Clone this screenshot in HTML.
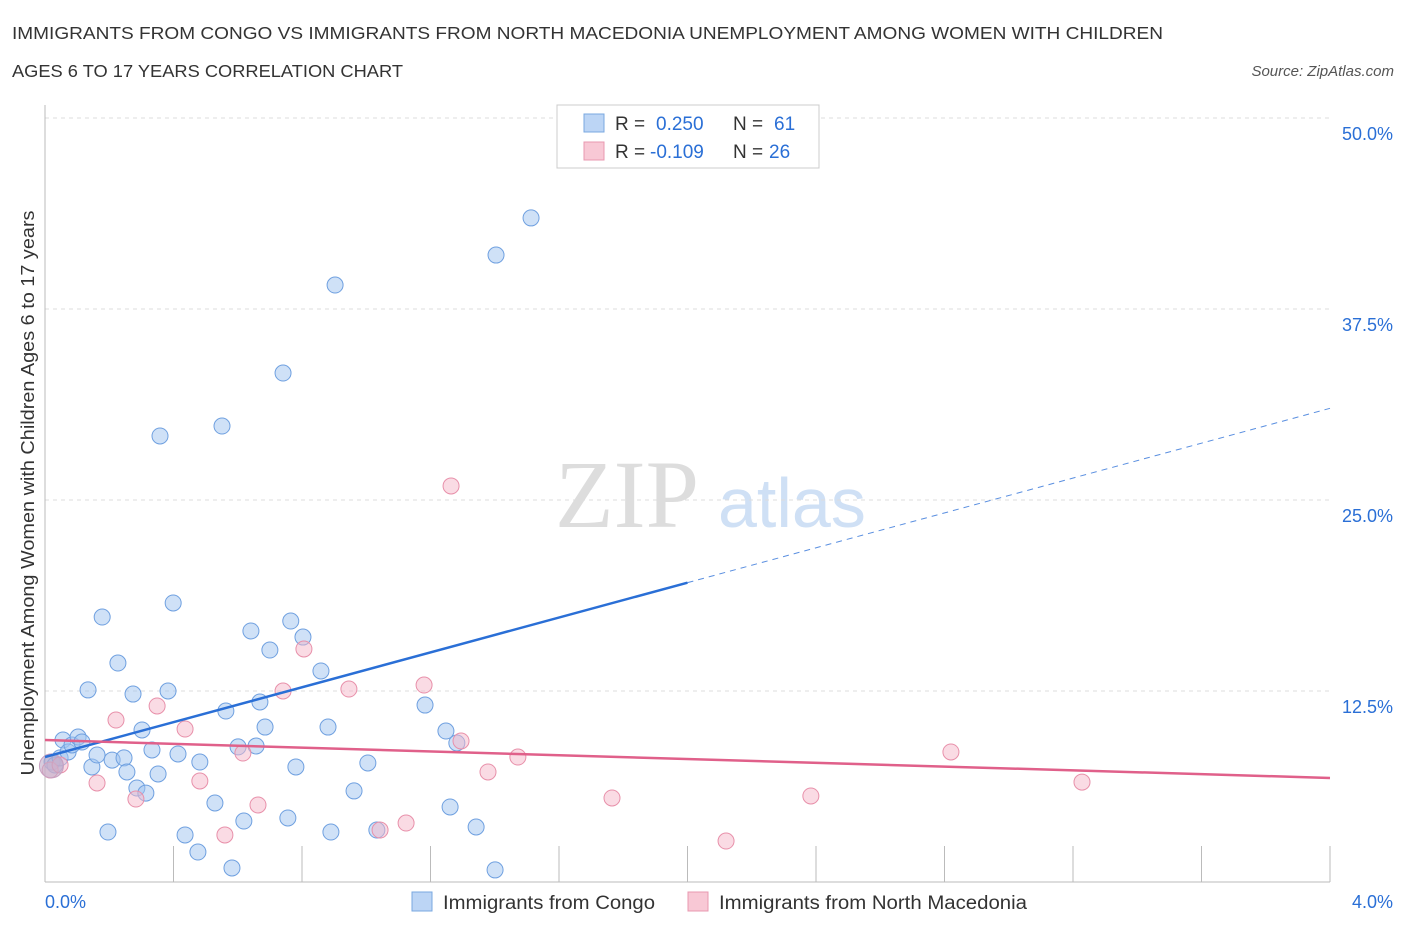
<!DOCTYPE html>
<html><head><meta charset="utf-8"><style>
body{margin:0;background:#fff;font-family:"Liberation Sans",sans-serif;}
svg{display:block}
</style></head><body>
<svg width="1406" height="930" viewBox="0 0 1406 930" xmlns="http://www.w3.org/2000/svg" id="svg">
<text x="12" y="39" font-size="17.5" fill="#333" textLength="1151" lengthAdjust="spacingAndGlyphs">IMMIGRANTS FROM CONGO VS IMMIGRANTS FROM NORTH MACEDONIA UNEMPLOYMENT AMONG WOMEN WITH CHILDREN</text>
<text x="12" y="77" font-size="17.5" fill="#333" textLength="391" lengthAdjust="spacingAndGlyphs">AGES 6 TO 17 YEARS CORRELATION CHART</text>
<text x="1394" y="76" font-size="15" fill="#555" font-style="italic" text-anchor="end">Source: ZipAtlas.com</text>
<text x="555" y="527" font-size="96" fill="#ddd" font-family="Liberation Serif">ZIP</text>
<text x="718" y="527" font-size="70" fill="#cfe0f5">atlas</text>
<text transform="translate(34,493) rotate(-90)" font-size="18" fill="#333" text-anchor="middle" textLength="565" lengthAdjust="spacingAndGlyphs">Unemployment Among Women with Children Ages 6 to 17 years</text>
<g id="grid"></g><g id="axes"></g><g id="pts"></g><g id="lines"></g>
<g>
<rect x="557" y="105" width="262" height="63" fill="#fff" stroke="#ccc"/>
<rect x="584" y="114" width="20" height="18" fill="#bcd5f5" stroke="#7aa8e0"/>
<text x="615" y="130" font-size="19" fill="#333">R =</text>
<text x="656" y="130" font-size="19" fill="#2a6fd6">0.250</text>
<text x="733" y="130" font-size="19" fill="#333">N =</text>
<text x="774" y="130" font-size="19" fill="#2a6fd6">61</text>
<rect x="584" y="142" width="20" height="18" fill="#f8c8d5" stroke="#e898b0"/>
<text x="615" y="158" font-size="19" fill="#333">R =</text>
<text x="650" y="158" font-size="19" fill="#2a6fd6">-0.109</text>
<text x="733" y="158" font-size="19" fill="#333">N =</text>
<text x="769" y="158" font-size="19" fill="#2a6fd6">26</text>
</g>
<g>
<rect x="412" y="892" width="20" height="19" fill="#bcd5f5" stroke="#7aa8e0"/>
<text x="443" y="909" font-size="19" fill="#333" textLength="212" lengthAdjust="spacingAndGlyphs">Immigrants from Congo</text>
<rect x="688" y="892" width="20" height="19" fill="#f8c8d5" stroke="#e898b0"/>
<text x="719" y="909" font-size="19" fill="#333" textLength="308" lengthAdjust="spacingAndGlyphs">Immigrants from North Macedonia</text>
</g>
</svg>
<script>
const blueX=[.022,.031,.047,.056,.072,.084,.103,.115,.134,.146,.162,.178,.196,.209,.227,.246,.255,.274,.286,.302,.314,.333,.352,.358,.383,.399,.414,.436,.476,.482,.529,.551,.563,.582,.601,.619,.641,.657,.669,.685,.700,.741,.756,.765,.781,.803,.859,.881,.890,.903,.962,1.005,1.033,1.183,1.248,1.261,1.282,1.342,1.401,1.404,1.513];
const blueY=[7.85,7.66,8.12,9.29,8.51,8.97,9.49,9.16,12.57,7.53,8.31,17.34,3.27,7.98,14.33,8.12,7.20,12.30,6.15,9.95,5.82,8.64,7.07,29.19,12.50,18.26,8.38,3.08,1.96,7.85,5.17,29.84,11.19,0.92,8.84,3.99,16.43,8.90,11.78,10.14,15.18,33.31,4.19,17.08,7.53,16.03,13.81,10.14,3.27,39.07,5.96,7.79,3.40,11.58,9.88,4.91,9.10,3.60,0.79,41.03,43.46];
const pinkX=[.016,.047,.162,.221,.283,.349,.436,.482,.560,.616,.663,.741,.806,.946,1.043,1.124,1.180,1.264,1.295,1.379,1.472,1.765,2.120,2.384,2.820,3.228];
const pinkY=[7.33,7.66,6.48,10.60,5.43,11.52,10.01,6.61,3.08,8.44,5.04,12.50,15.25,12.63,3.40,3.86,12.89,25.92,9.23,7.20,8.18,5.50,2.68,5.63,8.51,6.54];
const yTicks=[12.5,25,37.5,50];
const xTickLabels=["0.0%","4.0%"];
const blueFit=[8.18,31.0];
const pinkFit=[9.29,6.81];
const NS="http://www.w3.org/2000/svg";
const X=v=>45+v/4*1285, Y=v=>882-v/12.5*191;
function mk(t,a,p){const e=document.createElementNS(NS,t);for(const k in a)e.setAttribute(k,a[k]);document.getElementById(p).appendChild(e);return e;}
yTicks.forEach(t=>{
 const g=mk('line',{x1:45,x2:1330,y1:Y(t),y2:Y(t),stroke:'#ddd','stroke-dasharray':'4 4'},'grid');
 
 
 const l=mk('text',{x:1393,y:Y(t)+22,'font-size':18,fill:'#2a6fd6','text-anchor':'end'},'axes');
 
 
 l.textContent=t.toFixed(1)+'%';
});
const ax=mk('line',{x1:45,x2:45,y1:105,y2:882,stroke:'#bbb'},'axes');


const bx=mk('line',{x1:45,x2:1330,y1:882,y2:882,stroke:'#bbb'},'axes');


for(let i=0;i<=10;i++){const t=mk('line',{x1:X(i*0.4),x2:X(i*0.4),y1:846,y2:882,stroke:'#bbb'},'axes');
 
 }
[[0,xTickLabels[0],'start',45],[4,xTickLabels[1],'end',1393]].forEach(d=>{
 const l=mk('text',{x:d[3],y:908,'font-size':18,fill:'#2a6fd6','text-anchor':d[2]},'axes');
 
 
 l.textContent=d[1];});
blueX.forEach((v,i)=>{const c=mk('circle',{cx:X(v),cy:Y(blueY[i]),r:8,fill:'rgba(160,196,240,0.5)',stroke:'#6fa0e0','stroke-width':1},'pts');
 
 });
pinkX.forEach((v,i)=>{const c=mk('circle',{cx:X(v),cy:Y(pinkY[i]),r:8,fill:'rgba(246,184,202,0.5)',stroke:'#e890aa','stroke-width':1},'pts');
 
 });
const big=mk('circle',{cx:X(0.02),cy:Y(7.6),r:12,fill:'rgba(190,170,200,0.6)',stroke:'#c8a0c0'},'pts');


const bm=blueFit[0]+(blueFit[1]-blueFit[0])*2/4;
const b1=mk('line',{x1:X(0),y1:Y(blueFit[0]),x2:X(2),y2:Y(bm),stroke:'#2a6fd6','stroke-width':2.5},'lines');


const b2=mk('line',{x1:X(2),y1:Y(bm),x2:X(4),y2:Y(blueFit[1]),stroke:'#5a8fe0','stroke-width':1,'stroke-dasharray':'6 5'},'lines');


const p1=mk('line',{x1:X(0),y1:Y(pinkFit[0]),x2:X(4),y2:Y(pinkFit[1]),stroke:'#e0608a','stroke-width':2.5},'lines');


</script>
</body></html>
